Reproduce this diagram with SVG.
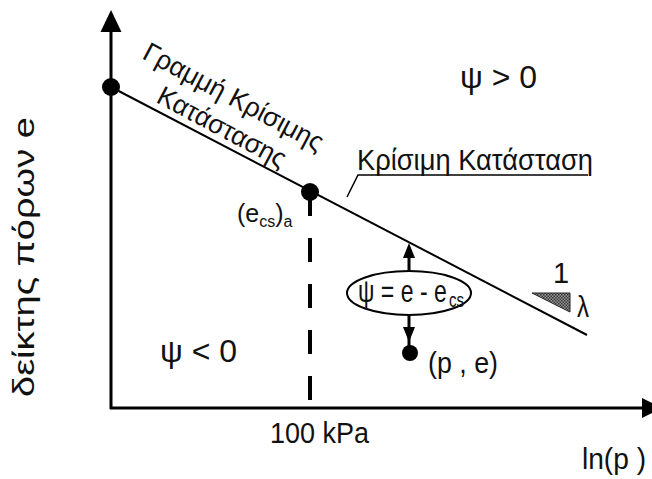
<svg xmlns="http://www.w3.org/2000/svg" width="652" height="479" viewBox="0 0 652 479">
<defs>
<style>
text{font-family:"Liberation Sans",Arial,sans-serif;fill:#111}
.ax{stroke:#000;stroke-width:3;fill:none}
.dot{fill:#000}
</style>
<pattern id="stip" width="3" height="3" patternUnits="userSpaceOnUse">
<rect width="3" height="3" fill="#9a9a9a"/>
<rect width="1.5" height="1.5" fill="#333"/>
<rect x="1.5" y="1.5" width="1.5" height="1.5" fill="#333"/>
</pattern>
</defs>
<rect width="652" height="479" fill="#fff"/>

<g id="axes">
<line class="ax" x1="111" y1="409" x2="111" y2="30"/>
<polygon points="111,10 100.5,32 121.5,32" fill="#000"/>
<line class="ax" x1="110" y1="408" x2="643" y2="408"/>
<polygon points="642,398 642,418 662,408" fill="#000"/>
</g>

<g id="connectors">
<line id="csl" x1="111" y1="87" x2="587" y2="335" stroke="#000" stroke-width="2"/>
<line x1="310" y1="192" x2="310" y2="400" stroke="#000" stroke-width="4" stroke-dasharray="24 22"/>
<line x1="409" y1="256" x2="409" y2="271" stroke="#000" stroke-width="3"/>
<polygon points="409,243 403,258 415,258" fill="#000"/>
<line x1="409" y1="315" x2="409" y2="350" stroke="#000" stroke-width="3"/>
<polygon points="409,342 403,327 415,327" fill="#000"/>
<polyline points="347,197 358,175 588,175" stroke="#000" stroke-width="1.5" fill="none"/>
</g>

<g id="node-e0"><circle class="dot" cx="111" cy="87" r="9"/></g>
<g id="node-ecs"><circle class="dot" cx="310" cy="192" r="9"/>
<text x="237" y="222" font-size="25">(e<tspan font-size="16" dy="5">cs</tspan><tspan dy="-5">)</tspan><tspan font-size="16" dy="5">a</tspan></text></g>
<g id="node-pe"><circle class="dot" cx="410" cy="353" r="8"/>
<text x="428" y="373" font-size="30" textLength="70" lengthAdjust="spacingAndGlyphs">(p , e)</text></g>

<g id="node-psi">
<ellipse cx="409" cy="293" rx="62" ry="22" fill="#fff" stroke="#000" stroke-width="2"/>
<text transform="translate(358,302) scale(0.72,1)" font-size="32">ψ = e - e<tspan font-size="21" dx="3" dy="5">cs</tspan></text>
</g>

<g id="label-csl" transform="translate(141,58) rotate(28)">
<text x="100" y="0" font-size="27" text-anchor="middle" textLength="200" lengthAdjust="spacingAndGlyphs">Γραμμή Κρίσιμης</text>
<text x="104" y="32" font-size="27" text-anchor="middle" textLength="142" lengthAdjust="spacingAndGlyphs">Κατάστασης</text>
</g>

<g id="label-cs"><text x="357" y="170" font-size="30" textLength="236" lengthAdjust="spacingAndGlyphs">Κρίσιμη Κατάσταση</text></g>

<g id="slope">
<polygon points="532,293 570,293 570,312" fill="url(#stip)" stroke="#222" stroke-width="1"/>
<text x="561" y="283" font-size="29" text-anchor="middle">1</text>
<text x="577" y="317" font-size="30" textLength="12" lengthAdjust="spacingAndGlyphs">λ</text>
</g>

<g id="regions">
<text x="460" y="88" font-size="32" textLength="77" lengthAdjust="spacingAndGlyphs">ψ &gt; 0</text>
<text x="160" y="362" font-size="32" textLength="77" lengthAdjust="spacingAndGlyphs">ψ &lt; 0</text>
</g>

<g id="axis-labels">
<text x="270" y="443" font-size="29" textLength="99" lengthAdjust="spacingAndGlyphs">100 kPa</text>
<text x="582" y="469" font-size="29" textLength="64" lengthAdjust="spacingAndGlyphs">ln(p )</text>
<text transform="translate(34,397) rotate(-90)" x="0" y="0" font-size="29" textLength="280" lengthAdjust="spacingAndGlyphs">δείκτης πόρων e</text>
</g>
</svg>
